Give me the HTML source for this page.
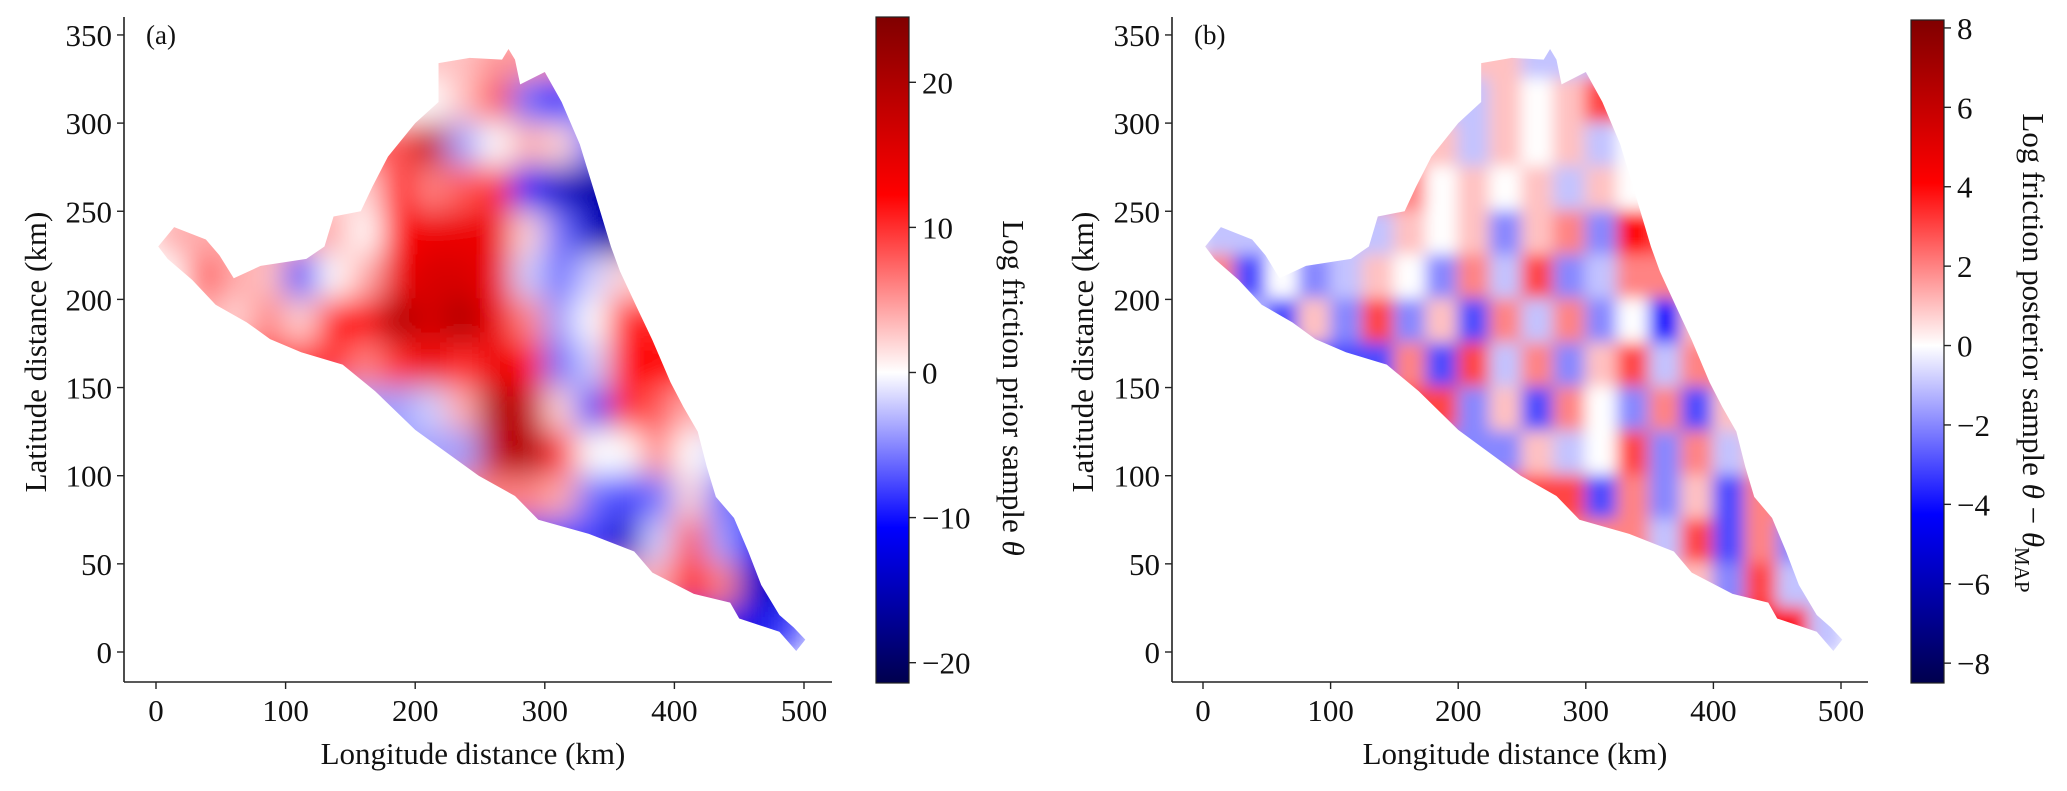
<!DOCTYPE html>
<html><head><meta charset="utf-8">
<style>
html,body{margin:0;padding:0;background:#fff;}
svg{display:block;font-family:"Liberation Serif","DejaVu Serif",serif;}
</style></head>
<body>
<svg id="chart" width="2067" height="791" viewBox="0 0 2067 791" xmlns="http://www.w3.org/2000/svg">
<defs>
<linearGradient id="cbA" x1="0" y1="1" x2="0" y2="0"></linearGradient>
<linearGradient id="cbB" x1="0" y1="1" x2="0" y2="0"></linearGradient>
<filter id="blurA" filterUnits="userSpaceOnUse" x="0" y="0" width="2067" height="791"><feGaussianBlur stdDeviation="15"/></filter>
<filter id="blurB" filterUnits="userSpaceOnUse" x="0" y="0" width="2067" height="791"><feGaussianBlur stdDeviation="8"/></filter>
</defs>
</svg>
<script>
// ---------- data ----------
const gridX = [12.5,37.5,62.5,87.5,112.5,137.5,162.5,187.5,212.5,237.5,262.5,287.5,312.5,337.5,362.5,387.5,412.5,437.5,462.5,487.5];
const gridY = [337.5,312.5,287.5,262.5,237.5,212.5,187.5,162.5,137.5,112.5,87.5,62.5,37.5,12.5];
const N = null;
const priorValues = [
 [N,N,N,N,N,N,N,N,N,3,5,N,N,N,N,N,N,N,N,N],
 [N,N,N,N,N,N,N,N,0,3,8,-6,-10,-4,N,N,N,N,N,N],
 [N,N,N,N,N,N,N,8,18,-4,0,4,2,-6,N,N,N,N,N,N],
 [N,N,N,N,N,N,2,12,6,8,10,-10,-14,-16,N,N,N,N,N,N],
 [N,N,N,N,N,4,0,12,14,14,14,2,-6,-14,-18,N,N,N,N,N],
 [0,8,4,3,-8,0,4,14,16,16,14,-2,-6,-2,2,N,N,N,N,N],
 [0,4,2,6,2,12,12,20,16,20,14,6,-4,0,12,10,N,N,N,N],
 [N,N,N,N,N,10,6,10,14,10,14,12,-6,-2,12,12,N,N,N,N],
 [N,N,N,N,N,N,N,-4,-2,4,20,18,2,-8,10,8,4,N,N,N],
 [N,N,N,N,N,N,N,N,N,-4,18,20,10,0,0,6,0,-2,N,N],
 [N,N,N,N,N,N,N,N,N,N,N,6,4,-6,-8,-6,2,-6,N,N],
 [N,N,N,N,N,N,N,N,N,N,N,N,N,-8,-14,-2,8,-4,-10,N],
 [N,N,N,N,N,N,N,N,N,N,N,N,N,N,N,4,12,6,-14,N],
 [N,N,N,N,N,N,N,N,N,N,N,N,N,N,N,N,N,N,-12,-8]
];
const posteriorValues = [
 [N,N,N,N,N,N,N,N,N,1,-1,N,N,N,N,N,N,N,N,N],
 [N,N,N,N,N,N,N,N,-1,1,0,1,3,N,N,N,N,N,N,N],
 [N,N,N,N,N,N,N,1,-1,1,0,1,-1,0,N,N,N,N,N,N],
 [N,N,N,N,N,N,2,0,1,0,1,-1,1,0,N,N,N,N,N,N],
 [N,N,N,N,N,-1,1,0,1,-2,1,2,-2,4,3,N,N,N,N,N],
 [2,-3,0,-2,-1,1,0,-2,2,-1,3,-2,-1,2,2,N,N,N,N,N],
 [0,-1,-3,1,-2,3,-2,1,-3,2,-1,2,-2,0,-4,1,N,N,N,N],
 [N,N,N,N,N,-3,2,-3,3,-1,2,-2,1,3,-1,2,N,N,N,N],
 [N,N,N,N,N,N,N,3,-2,1,-3,2,0,-2,2,-3,1,N,N,N],
 [N,N,N,N,N,N,N,N,N,-2,1,-1,0,3,-2,2,-1,1,N,N],
 [N,N,N,N,N,N,N,N,N,N,N,3,-3,2,-2,1,-3,2,N,N],
 [N,N,N,N,N,N,N,N,N,N,N,N,N,2,-1,3,-3,2,-2,N],
 [N,N,N,N,N,N,N,N,N,N,N,N,N,N,N,1,-2,3,-1,N],
 [N,N,N,N,N,N,N,N,N,N,N,N,N,N,N,N,N,N,4,-1]
];
const boundary = [[1.7,230],[14,241],[38.5,234],[49,225],[60,212],[80.7,219],[116,223],[130,230],[137,247],[158,250],[167,264],[179,281],[200,300],[218,312],[218,334],[242,337],[267,336],[272,342],[277,336],[281,322],[300,329],[313,312],[327,288],[337,264],[351,230],[358,216],[372,194],[383,177],[397,153],[407,139],[418,125],[425,105],[432,88],[446,76],[457,57],[467,38],[481,21],[492,14],[501,7],[494,0.6],[481,11.5],[450,19],[443,28],[415,33],[383,45],[369,57],[334,67],[295,75],[277,88.5],[249,100],[200,126],[169,148],[144,163],[112,170],[88,177.5],[70,187],[46,197],[28,211],[9,223]];
const xTicks = [0,100,200,300,400,500];
const yTicks = [0,50,100,150,200,250,300,350];
const cbTicksA = [20,10,0,-10,-20];
const cbTicksB = [8,6,4,2,0,-2,-4,-6,-8];

// ---------- helpers ----------
const NS = "http://www.w3.org/2000/svg";
const svg = document.getElementById('chart');
function el(tag, attrs, parent){const e=document.createElementNS(NS,tag);for(const k in attrs)e.setAttribute(k,attrs[k]);(parent||svg).appendChild(e);return e;}
function seismic(t){
  t=Math.max(-1,Math.min(1,t));
  let r,g,b;
  if(t<-0.5){const u=(t+1)/0.5;r=0;g=0;b=0.3+0.7*u;}
  else if(t<0){const u=(t+0.5)/0.5;r=u;g=u;b=1;}
  else if(t<0.5){const u=t/0.5;r=1;g=1-u;b=1-u;}
  else{const u=(t-0.5)/0.5;r=1-0.5*u;g=0;b=0;}
  return `rgb(${Math.round(r*255)},${Math.round(g*255)},${Math.round(b*255)})`;
}
function fmt(v){return v<0?'\u2212'+Math.abs(v):String(v);}

function panel(cfg){
  const X=v=>cfg.x0+cfg.sx*v, Y=v=>652-1.763*v;
  const cell=25;
  const cp=el('clipPath',{id:cfg.id+'-clip'},svg.querySelector('defs'));
  el('polygon',{points:boundary.map(p=>X(p[0])+','+Y(p[1])).join(' ')},cp);
  const outer=el('g',{'clip-path':`url(#${cfg.id}-clip)`});
  
  
  const g=el('g',{filter:`url(#${cfg.filter})`},outer);
  cfg.values.forEach((row,ri)=>{
    row.forEach((v,ci)=>{
      let val=v;
      if(val===null){
        let best=null,bd=1e9;
        row.forEach((w,cj)=>{if(w!==null&&Math.abs(cj-ci)<bd){bd=Math.abs(cj-ci);best=w;}});
        val=best===null?0:best;
      }
      const t=val>=0?val/cfg.vmax:val/Math.abs(cfg.vmin);
      const r=el('rect',{x:X(gridX[ci]-cell/2)-1,y:Y(gridY[ri]+cell/2)-1,width:cfg.sx*cell+2,height:1.763*cell+2,fill:seismic(t)},g);
      
      
    });
  });
  const ax=el('g',{});
  
  
  el('line',{x1:cfg.left,y1:17,x2:cfg.left,y2:682,stroke:'#222','stroke-width':1.6},ax);
  el('line',{x1:cfg.left,y1:682,x2:cfg.right,y2:682,stroke:'#222','stroke-width':1.6},ax);
  xTicks.forEach(v=>{
    el('line',{x1:X(v),y1:682,x2:X(v),y2:689,stroke:'#222','stroke-width':1.4},ax);
    const t=el('text',{x:X(v),y:721,'font-size':31,'text-anchor':'middle',fill:'#111'},ax);t.textContent=v;
    
    
  });
  yTicks.forEach(v=>{
    el('line',{x1:cfg.left-7,y1:Y(v),x2:cfg.left,y2:Y(v),stroke:'#222','stroke-width':1.4},ax);
    const t=el('text',{x:cfg.left-12,y:Y(v)+11,'font-size':31,'text-anchor':'end',fill:'#111'},ax);t.textContent=v;
    
    
  });
  const xt=el('text',{x:(cfg.left+cfg.right)/2-5,y:764,'font-size':31,'text-anchor':'middle',fill:'#111'});
  xt.textContent='Longitude distance (km)';
  
  
  const yt=el('text',{x:0,y:0,'font-size':31,'text-anchor':'middle',fill:'#111',transform:`translate(${cfg.ytx},352) rotate(-90)`});
  yt.textContent='Latitude distance (km)';
  
  
  const pl=el('text',{x:cfg.left+22,y:44,'font-size':27,fill:'#111'});
  pl.textContent=cfg.label;
  
  
  const grad=document.getElementById(cfg.grad);
  const zeroFrac=Math.abs(cfg.vmin)/(cfg.vmax+Math.abs(cfg.vmin));
  [[0,-1],[zeroFrac/2,-0.5],[zeroFrac,0],[zeroFrac+(1-zeroFrac)/2,0.5],[1,1]].forEach(s=>{
    el('stop',{offset:s[0],'stop-color':seismic(s[1])},grad);
  });
  const cb=el('g',{});
  
  
  el('rect',{x:cfg.cbx,y:cfg.cbTop,width:33,height:683-cfg.cbTop,fill:`url(#${cfg.grad})`,stroke:'#222','stroke-width':1.2},cb);
  const CY=v=>{const z=683-zeroFrac*(683-cfg.cbTop);return v>=0?z-v/cfg.vmax*(z-cfg.cbTop):z+Math.abs(v)/Math.abs(cfg.vmin)*(683-z);};
  cfg.cbTicks.forEach(v=>{
    el('line',{x1:cfg.cbx+33,y1:CY(v),x2:cfg.cbx+40,y2:CY(v),stroke:'#222','stroke-width':1.4},cb);
    const t=el('text',{x:cfg.cbx+46,y:CY(v)+11,'font-size':31,fill:'#111'},cb);t.textContent=fmt(v);
    
    
  });
  const ct=el('text',{x:0,y:0,'font-size':31,'text-anchor':'middle',fill:'#111',transform:`translate(${cfg.cbtx},${cfg.cbty}) rotate(90)`});
  ct.innerHTML=cfg.cbTitle;
  
  
}

panel({id:'panel-a',x0:156,sx:1.296,left:124,right:832,values:priorValues,vmin:-21.4,vmax:24.5,filter:'blurA',
  grad:'cbA',cbx:876,cbTop:17,cbTicks:cbTicksA,ytx:46,label:'(a)',cbtx:1003,cbty:388,
  cbTitle:'Log friction prior sample <tspan font-style="italic">θ</tspan>'});
panel({id:'panel-b',x0:1203,sx:1.276,left:1172,right:1868,values:posteriorValues,vmin:-8.5,vmax:8.2,filter:'blurB',
  grad:'cbB',cbx:1911,cbTop:20,cbTicks:cbTicksB,ytx:1093,label:'(b)',cbtx:2023,cbty:353,
  cbTitle:'Log friction posterior sample <tspan font-style="italic">θ</tspan> − <tspan font-style="italic">θ</tspan><tspan font-size="21" dy="8">MAP</tspan>'});
</script>
</body></html>
